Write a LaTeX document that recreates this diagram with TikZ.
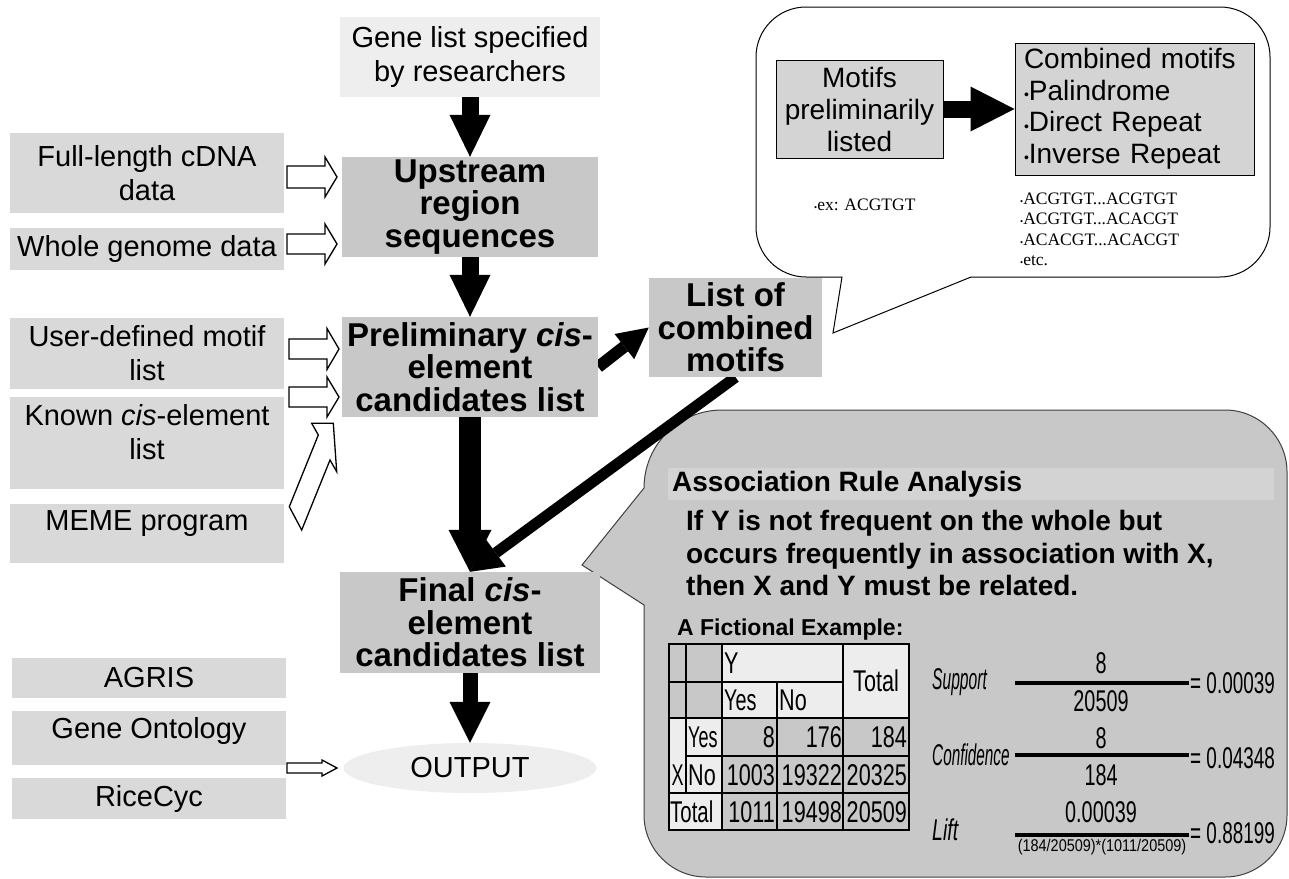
\documentclass[tikz,border=0pt]{standalone}
\usepackage{fontspec}
\usepackage{graphicx}
\setmainfont{Liberation Sans}
\newfontfamily\serifx{Liberation Serif}
\usetikzlibrary{arrows.meta,shapes.geometric,calc}
\pgfdeclarelayer{bg}
\pgfdeclarelayer{mid}
\pgfsetlayers{bg,mid,main}
\definecolor{lightfill}{HTML}{EEEEEE}
\definecolor{inputfill}{HTML}{D9D9D9}
\definecolor{mainfill}{HTML}{C8C8C8}
\definecolor{bandfill}{HTML}{D3D3D3}
\definecolor{calloutline}{HTML}{404040}
\definecolor{cellgray}{HTML}{C8C8C8}
\definecolor{celllight}{HTML}{EDEDED}
\definecolor{motiffill}{HTML}{D4D4D4}
\newcommand{\cnd}[2][0.72]{\scalebox{#1}[1]{#2}}
\newcommand{\smallbul}{\raisebox{0.02em}{\scalebox{0.5}{•}}}
\newcommand{\hblock}[6]{%
  \filldraw[openarr] (#1,#4-#5) -- (#2,#4-#5) -- (#2,#4-#6) -- (#3,#4) -- (#2,#4+#6) -- (#2,#4+#5) -- (#1,#4+#5) -- cycle;}
\begin{document}
\begin{tikzpicture}[x=1pt,y=-1pt,
  reg/.style={font=\fontsize{29}{34}\selectfont},
  bld/.style={font=\fontsize{33}{32.5}\selectfont\bfseries},
  inbox/.style={rectangle, fill=inputfill, minimum width=274pt, inner sep=0, align=center, reg},
  mainbox/.style={rectangle, fill=mainfill, inner sep=0, align=center, bld},
  toplabel/.style={reg, align=center, anchor=north, inner sep=0, yshift=-7pt},
  openarr/.style={draw=black, line width=1.3pt, fill=white, line join=miter},
  tcell/.style={inner sep=0, font=\fontsize{30}{32}\selectfont},
  num/.style={inner sep=0, font=\fontsize{30}{32}\selectfont},
  lbl/.style={inner sep=0, anchor=west, font=\fontsize{30}{32}\selectfont\itshape},
  fracline/.style={line width=3.5pt}
]
\useasboundingbox (0,0) rectangle (1289,878);

% ---------- main flow nodes ----------
\node[rectangle, fill=lightfill, minimum width=260pt, minimum height=80pt, inner sep=0, align=center, reg] (gene) at (470,57) {Gene list specified\\by researchers};
\node[inbox, minimum height=80pt] (cdna) at (147,173) {Full-length cDNA\\data};
\node[inbox, minimum height=42pt] (whole) at (147,249) {Whole genome data};
\node[inbox, minimum height=71pt] (user) at (147,353.5) {User-defined motif\\list};
\node[inbox, minimum height=92pt, label={[toplabel]north:{Known \textit{cis}-element\\list}}] (known) at (147,443) {};
\node[inbox, minimum height=59pt, label={[toplabel]north:{MEME program}}] (meme) at (147,533.5) {};
\node[inbox, minimum height=40pt] (agris) at (149,678) {AGRIS};
\node[inbox, minimum height=54pt, label={[toplabel, yshift=1pt]north:{Gene Ontology}}] (geneont) at (149,738) {};
\node[inbox, minimum height=41pt] (rice) at (149,798.5) {RiceCyc};

\node[mainbox, minimum width=256pt, minimum height=100pt] (up) at (470,207) {Upstream\\region\\sequences};
\node[mainbox, minimum width=256pt, minimum height=100pt] (prelim) at (470,367) {Preliminary \textit{cis}-\\element\\candidates list};
\node[mainbox, minimum width=260pt, minimum height=101pt] (final) at (470,622.5) {Final \textit{cis}-\\element\\candidates list};
\node[mainbox, minimum width=173pt, minimum height=99pt] (list) at (735.5,327.5) {List of\\combined\\motifs};
\node[ellipse, fill=lightfill, minimum width=253pt, minimum height=50pt, inner sep=0, reg] (out) at (470,768) {OUTPUT};

% ---------- top callout contents ----------
\node[rectangle, draw=black, line width=1pt, fill=motiffill, minimum width=167pt, minimum height=98pt, inner sep=0, align=center, font=\fontsize{28}{32}\selectfont] (motifs) at (859.5,109) {Motifs\\preliminarily\\listed};
\node[rectangle, draw=black, line width=1pt, fill=motiffill, text width=221pt, minimum height=132pt, inner xsep=9pt, inner ysep=0, align=left, font=\fontsize{28}{31.5}\selectfont] (comb) at (1134.5,109) {\mbox{Combined motifs}\\\smallbul Palindrome\\\smallbul Direct Repeat\\\smallbul Inverse Repeat};
\node[anchor=west, inner sep=0, font=\serifx\fontsize{17.5}{20}\selectfont] (ex) at (814,205) {\smallbul ex: ACGTGT};
\node[anchor=west, inner sep=0, align=left, font=\serifx\fontsize{17.5}{20.5}\selectfont] (exlist) at (1020,229.5) {\smallbul ACGTGT...ACGTGT\\\smallbul ACGTGT...ACACGT\\\smallbul ACACGT...ACACGT\\\smallbul etc.};

% ---------- callouts (background) ----------
\begin{pgfonlayer}{bg}
\fill[white] (0,0) rectangle (1289,878);
\draw[black, line width=1pt, fill=white] (971,277) -- (1220,277) .. controls (1247.6,277) and (1270,254.4) .. (1270,227) -- (1270,57) .. controls (1270,29.4) and (1247.6,7) .. (1220,7) -- (806,7) .. controls (778.4,7) and (756,29.4) .. (756,57) -- (756,227) .. controls (756,254.4) and (778.4,277) .. (806,277) -- (842,277) -- (833,333) -- cycle;
\draw[calloutline, line width=1pt, fill=mainfill] (644,605) -- (644,815) .. controls (644,849.2) and (671.8,877) .. (706,877) -- (1225,877) .. controls (1259.2,877) and (1287,849.2) .. (1287,815) -- (1287,472) .. controls (1287,437.8) and (1259.2,410) .. (1225,410) -- (722,410) .. controls (678.9,410) and (644,444.9) .. (644,488) -- (582,565) -- cycle;
\fill[bandfill] (668,468) rectangle (1274,500);
\end{pgfonlayer}

% ---------- solid arrows ----------
\begin{pgfonlayer}{mid}
\draw[line width=17pt, -{Triangle[length=42pt,width=41pt,line width=0pt]}] (gene.south) -- (up.north);
\draw[line width=17pt, -{Triangle[length=42pt,width=41pt,line width=0pt]}] (up.south) -- (prelim.north);
\draw[line width=22pt, -{Triangle[length=42pt,width=43pt,line width=0pt]}] (prelim.south) -- (final.north);
\draw[line width=15pt, -{Triangle[length=41pt,width=41pt,line width=0pt]}] (final.south) -- (out.north);
\draw[line width=12pt, -{Triangle[length=31pt,width=32pt,line width=0pt]}] (prelim.east) -- (list.west);
\draw[line width=11pt, -{Triangle[length=32pt,width=34pt,line width=0pt]}] (list.south) -- (final.north);
\draw[line width=17pt, -{Triangle[length=44pt,width=45pt,line width=0pt]}] (motifs.east) -- (comb.west);
\end{pgfonlayer}

% ---------- open arrows ----------
\hblock{287}{325}{337}{177}{11}{20}
\hblock{287}{325}{337}{244}{10}{20}
\hblock{289}{327}{339}{349}{10}{20.5}
\hblock{289}{327}{339}{397}{10}{20}
\hblock{287}{322}{337}{768}{5}{8}
\filldraw[openarr] (289.3,506.7) -- (318.3,435) -- (311.7,423.3) -- (333.3,423.3) -- (336.7,471.7) -- (330,460) -- (301.7,530) -- cycle;

% ---------- association rule callout contents ----------
\node[anchor=west, inner sep=0, font=\fontsize{28}{32}\selectfont\bfseries] (arhead) at (672,484) {Association Rule Analysis};
\node[anchor=west, inner sep=0, align=left, font=\fontsize{28}{32.5}\selectfont\bfseries] (arbody) at (686,553) {If Y is not frequent on the whole but\\occurs frequently in association with X,\\then X and Y must be related.};
\node[anchor=west, inner sep=0, font=\fontsize{23}{26}\selectfont\bfseries] (fict) at (677,630) {A Fictional Example:};

% table
\fill[cellgray] (669,644) rectangle (722,718);
\fill[cellgray] (722,718) rectangle (909,830);
\fill[celllight] (722,644) rectangle (909,718);
\fill[celllight] (669,718) rectangle (722,830);
\draw[line width=2pt] (669,644) rectangle (909,830);
\draw[line width=2pt] (669,682) -- (843,682);
\draw[line width=2pt] (669,718) -- (909,718);
\draw[line width=2pt] (686,756) -- (909,756);
\draw[line width=2pt] (669,793) -- (909,793);
\draw[line width=2pt] (686,644) -- (686,793);
\draw[line width=2pt] (722,644) -- (722,830);
\draw[line width=2pt] (777,682) -- (777,830);
\draw[line width=2pt] (843,644) -- (843,830);
\node[tcell, anchor=west] (ty) at (724,663) {\cnd{Y}};
\node[tcell] (ttot) at (876,681) {\cnd{Total}};
\node[tcell, anchor=west] (tyes) at (724,700) {\cnd[0.66]{Yes}};
\node[tcell, anchor=west] (tno) at (779,700) {\cnd{No}};
\node[tcell, anchor=west] (ra) at (688,737) {\cnd[0.6]{Yes}};
\node[tcell, anchor=east] (rb) at (775,737) {\cnd{8}};
\node[tcell, anchor=east] (rc) at (842,737) {\cnd{176}};
\node[tcell, anchor=east] (rd) at (907,737) {\cnd{184}};
\node[tcell] (tx) at (677.5,775) {\cnd[0.6]{X}};
\node[tcell, anchor=west] (sa) at (688,775) {\cnd{No}};
\node[tcell, anchor=east] (sb) at (775,775) {\cnd{1003}};
\node[tcell, anchor=east] (sc) at (842,775) {\cnd{19322}};
\node[tcell, anchor=east] (sd) at (907,775) {\cnd{20325}};
\node[tcell, anchor=west] (ua) at (670,812) {\cnd[0.68]{Total}};
\node[tcell, anchor=east] (ub) at (775,812) {\cnd{1011}};
\node[tcell, anchor=east] (uc) at (842,812) {\cnd{19498}};
\node[tcell, anchor=east] (ud) at (907,812) {\cnd{20509}};

% formulas
\node[lbl] (supl) at (932,682) {\cnd[0.52]{Support}};
\draw[fracline] (1015,683) -- (1189,683);
\node[num] (supn) at (1101,663) {\cnd[0.66]{8}};
\node[num] (supd) at (1101,701) {\cnd[0.66]{20509}};
\node[num, anchor=west] (supr) at (1190,683) {\cnd[0.63]{= 0.00039}};

\node[lbl] (conl) at (932,755) {\cnd[0.51]{Confidence}};
\draw[fracline] (1015,755) -- (1189,755);
\node[num] (conn) at (1101,738) {\cnd[0.66]{8}};
\node[num] (cond) at (1101,775) {\cnd[0.66]{184}};
\node[num, anchor=west] (conr) at (1190,758) {\cnd[0.63]{= 0.04348}};

\node[lbl] (liftl) at (932,830) {\cnd[0.65]{Lift}};
\draw[fracline] (1015,835) -- (1189,835);
\node[num] (liftn) at (1101,812) {\cnd[0.66]{0.00039}};
\node[inner sep=0, font=\fontsize{17}{19}\selectfont] (liftd) at (1102,847) {\cnd[0.85]{(184/20509)*(1011/20509)}};
\node[num, anchor=west] (liftr) at (1190,833) {\cnd[0.63]{= 0.88199}};
\end{tikzpicture}
\end{document}
